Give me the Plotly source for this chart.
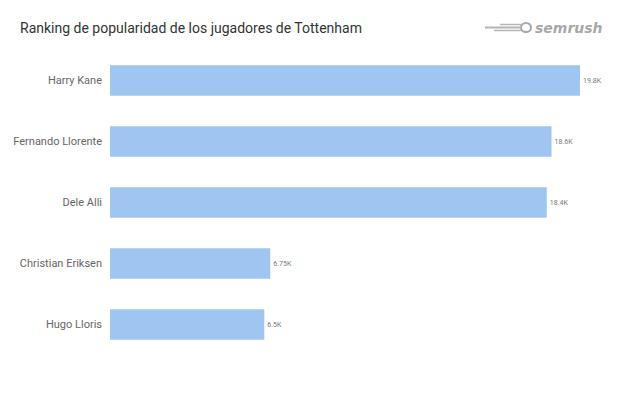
import plotly.graph_objects as go

players = ["Harry Kane", "Fernando Llorente", "Dele Alli", "Christian Eriksen", "Hugo Lloris"]
values_k = [19.8, 18.6, 18.4, 6.75, 6.5]
value_labels = ["19.8K", "18.6K", "18.4K", "6.75K", "6.5K"]

L, T, PW, PH = 102, 42, 470, 305  # plot area in figure px


def px(x):
    return (x - L) / PW


def py(y):
    return 1 - (y - T) / PH


fig = go.Figure(go.Bar(
    x=values_k, y=players, orientation="h",
    marker=dict(color="#9fc6f1", line=dict(width=0)),
    text=value_labels, textposition="outside", cliponaxis=False,
    textfont=dict(family="Roboto", size=7, color="#777777"),
    width=0.5,
))

shapes = [dict(type="circle", xref="paper", yref="paper",
               x0=px(513), x1=px(523), y0=py(15), y1=py(24),
               line=dict(color="#a8a8a8", width=2), fillcolor="white")]
for yy, x0, w in [(16.5, 492, 1.5), (19.5, 477, 2), (22.5, 486, 1.5)]:
    shapes.append(dict(type="line", xref="paper", yref="paper",
                       x0=px(x0), x1=px(513), y0=py(yy), y1=py(yy),
                       line=dict(color="#b4b4b4", width=w)))

fig.update_layout(
    width=626, height=398,
    margin=dict(l=L, r=626 - L - PW, t=T, b=398 - T - PH),
    plot_bgcolor="white", paper_bgcolor="white",
    showlegend=False,
    font=dict(family="Roboto", color="#555555"),
    title=dict(text="Ranking de popularidad de los jugadores de Tottenham",
               x=12/626, xanchor="left", y=1-20/398, yanchor="middle",
               font=dict(family="Roboto", size=14, color="#333333")),
    xaxis=dict(range=[0, 19.8], visible=False, fixedrange=True),
    yaxis=dict(autorange="reversed", showgrid=False, zeroline=False, showline=False,
               ticks="", ticklabelstandoff=7, automargin=False,
               tickfont=dict(family="Roboto", size=11, color="#666666")),
    shapes=shapes,
    annotations=[dict(text="<i><b>semrush</b></i>", xref="paper", yref="paper",
                      x=px(597), y=py(20), xanchor="right", yanchor="middle",
                      showarrow=False,
                      font=dict(family="DejaVu Sans", size=14, color="#a8a8a8"))],
)

fig.write_html("out.html")
